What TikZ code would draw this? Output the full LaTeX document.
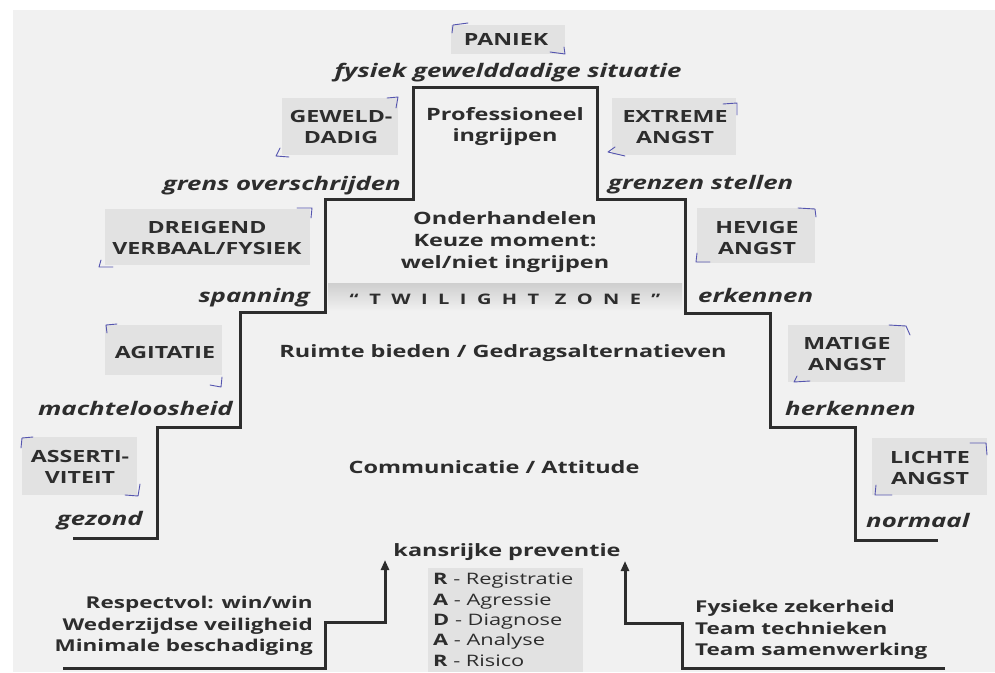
\documentclass[tikz,border=0pt]{standalone}
\usepackage{fontspec}
\setmainfont{Open Sans}[FakeStretch=1.38]
\usetikzlibrary{arrows.meta}
\definecolor{page}{RGB}{241,241,241}
\definecolor{boxg}{RGB}{226,226,226}
\definecolor{ink}{RGB}{45,45,45}
\definecolor{pen}{RGB}{85,85,175}
\begin{document}
\begin{tikzpicture}[x=1pt,y=-1pt,
  lbl/.style={font=\fontsize{16.8}{20.5}\selectfont\bfseries, text=ink, align=center, inner sep=0pt},
  big/.style={font=\fontsize{17}{21}\selectfont\bfseries, text=ink, align=center, inner sep=0pt},
  ital/.style={font=\fontsize{18.7}{22}\selectfont\bfseries\itshape, text=ink, inner sep=0pt},
  radar/.style={font=\fontsize{15.8}{20.3}\selectfont, text=ink, align=left, inner sep=0pt},
  base/.style={font=\fontsize{16.3}{21.5}\selectfont\bfseries, text=ink, inner sep=0pt},
  gbox/.style={fill=boxg},
  stair/.style={draw=ink, line width=3pt, line join=miter},
  pmark/.style={draw=pen, line width=0.9pt, line join=round, line cap=round},
  arr/.style={draw=ink, line width=3pt, -{Triangle[length=10pt,width=8pt]}}
  ]
\useasboundingbox (0,0) rectangle (995,672);
\fill[white] (0,0) rectangle (995,672);
\fill[page] (13,10) rectangle (995,672);

% grey label boxes
\fill[gbox] (451,25) rectangle (565,54);
\fill[gbox] (282,98) rectangle (398,155);
\fill[gbox] (612,98) rectangle (736,155);
\fill[gbox] (105,209) rectangle (310,265);
\fill[gbox] (697,208) rectangle (815,263);
\fill[gbox] (105,325) rectangle (222,375);
\fill[gbox] (22,437) rectangle (137,495);
\fill[gbox] (788,325) rectangle (905,382);
\fill[gbox] (872,438) rectangle (987,495);
\fill[gbox] (428,568) rectangle (583,672);
\shade[top color=gray!38, bottom color=page] (328,283) rectangle (682,311);

% staircase
\draw[stair] (73,538) -- (157,538) -- (157,427) -- (240,427) -- (240,312) -- (325,312)
  -- (325,199) -- (413,199) -- (413,87) -- (597,87) -- (597,199) -- (685,199)
  -- (685,313) -- (770,313) -- (770,427) -- (855,427) -- (855,540) -- (938,540);

% bottom steps with arrows
\node[base, anchor=base, font=\fontsize{17}{21}\selectfont\bfseries] (kans) at (507,556) {kansrijke preventie};
\coordinate (lstart) at (63,668);
\coordinate (rstart) at (945,668);
\draw[arr] (lstart) -- (325,668) -- (325,622) -- (385,622) -- (385,560);
\draw[arr] (rstart) -- (682,668) -- (682,623) -- (625,623) -- (625,561);

% left labels
\node[lbl] (paniek) at (506,39) {PANIEK};
\node[ital, anchor=base] (fysiek) at (508,77) {fysiek gewelddadige situatie};
\node[lbl] (geweld) at (341,127) {GEWELD-\\DADIG};
\node[ital, anchor=base east] (grens) at (401,190) {grens overschrijden};
\node[lbl] (dreig) at (207,238) {DREIGEND\\VERBAAL/FYSIEK};
\node[ital, anchor=base east] (span) at (310,302) {spanning};
\node[lbl] (agit) at (165,352) {AGITATIE};
\node[ital, anchor=base east] (macht) at (233,415) {machteloosheid};
\node[lbl] (assert) at (80,467) {ASSERTI-\\VITEIT};
\node[ital, anchor=base east] (gez) at (143,525) {gezond};

% right labels
\node[lbl] (extreme) at (675,127) {EXTREME\\ANGST};
\node[ital, anchor=base west] (grenzen) at (608,189) {grenzen stellen};
\node[lbl] (hevig) at (757,238) {HEVIGE\\ANGST};
\node[ital, anchor=base west] (erk) at (698,302) {erkennen};
\node[lbl] (matig) at (847,354) {MATIGE\\ANGST};
\node[ital, anchor=base west] (herk) at (785,415) {herkennen};
\node[lbl] (licht) at (930,468) {LICHTE\\ANGST};
\node[ital, anchor=base west] (norm) at (866,527) {normaal};

% centre texts
\node[big] (prof) at (505,127) {Professioneel\\ingrijpen};
\node[big, font=\fontsize{17}{22}\selectfont\bfseries] (onder) at (505,242) {Onderhandelen\\Keuze moment:\\wel/niet ingrijpen};
\node[font=\fontsize{14.5}{16}\selectfont\bfseries\addfontfeature{LetterSpace=72}, text=ink, inner sep=0pt] (twil) at (505,299) {“TWILIGHT ZONE”};
\node[big] (ruimte) at (503,353) {Ruimte bieden / Gedragsalternatieven};
\node[big] (comm) at (494,467) {Communicatie / Attitude};

% RADAR
\node[radar, anchor=north west] (radar) at (433,573) {\textbf{R} - Registratie\\\textbf{A} - Agressie\\\textbf{D} - Diagnose\\\textbf{A} - Analyse\\\textbf{R} - Risico};

% bottom texts
\node[base, anchor=north east, align=right] (resp) at (313,596) {Respectvol: win/win\\Wederzijdse veiligheid\\Minimale beschadiging};
\node[base, anchor=north west, align=left] (fys) at (695,600) {Fysieke zekerheid\\Team technieken\\Team samenwerking};

% handwritten corner marks
\draw[pmark] (452,33) -- (453,25) -- (468,23);
\draw[pmark] (550,52) -- (565,54) -- (564,47);
\draw[pmark] (387,98) -- (398,97) -- (396,108);
\draw[pmark] (280,148) -- (276,156) -- (289,157);
\draw[pmark] (723,104) -- (737,103) -- (737,115);
\draw[pmark] (615,147) -- (608,152) -- (625,156);
\draw[pmark] (297,208) -- (312,208) -- (311,218);
\draw[pmark] (101,260) -- (99,267) -- (113,267);
\draw[pmark] (798,208) -- (815,209) -- (816,217);
\draw[pmark] (697,253) -- (696,262) -- (710,262);
\draw[pmark] (107,333) -- (106,325) -- (117,324);
\draw[pmark] (210,385) -- (221,387) -- (222,377);
\draw[pmark] (21,448) -- (22,438) -- (33,437);
\draw[pmark] (125,495) -- (138,496) -- (140,484);
\draw[pmark] (889,325) -- (906,326) -- (910,335);
\draw[pmark] (797,376) -- (794,382) -- (810,381);
\draw[pmark] (970,443) -- (986,443) -- (987,455);
\draw[pmark] (876,485) -- (875,495) -- (892,495);
\end{tikzpicture}
\end{document}
